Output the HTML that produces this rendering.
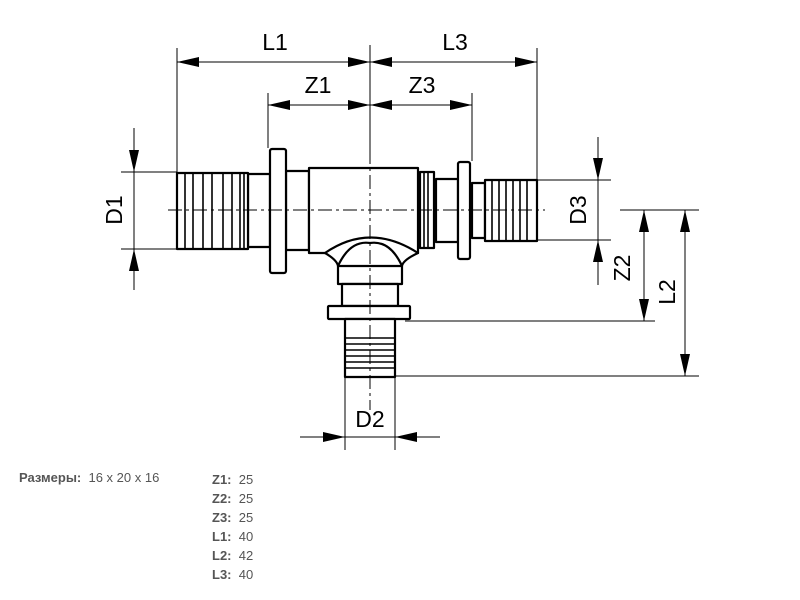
<!DOCTYPE html>
<html><head><meta charset="utf-8"><style>
body{margin:0;background:#fff;width:800px;height:600px;overflow:hidden;position:relative;font-family:"Liberation Sans",Arial,sans-serif}
svg{position:absolute;left:0;top:0}
.t{position:absolute;font-size:13px;color:#555}
.t b{color:#555}
</style></head><body>
<svg width="800" height="600" viewBox="0 0 800 600">
<defs>
<marker id="a" markerWidth="22" markerHeight="10" refX="22" refY="5" orient="auto" markerUnits="userSpaceOnUse"><path d="M0,0L22,5L0,10z" fill="#000"/></marker>
</defs>
<g stroke="#000" stroke-width="1" fill="none">
<line x1="177" y1="48" x2="177" y2="172"/>
<line x1="537" y1="48" x2="537" y2="180"/>
<line x1="268" y1="93" x2="268" y2="148"/>
<line x1="472" y1="93" x2="472" y2="161"/>
<line x1="121" y1="172" x2="177" y2="172"/>
<line x1="121" y1="249" x2="177" y2="249"/>
<line x1="537" y1="180" x2="611" y2="180"/>
<line x1="537" y1="240" x2="611" y2="240"/>
<line x1="620" y1="210" x2="699" y2="210"/>
<line x1="405" y1="321" x2="655" y2="321"/>
<line x1="395" y1="376" x2="699" y2="376"/>
<line x1="345" y1="378" x2="345" y2="450"/>
<line x1="395" y1="378" x2="395" y2="450"/>
<line x1="370" y1="45" x2="370" y2="150"/>
</g>
<g stroke="#000" stroke-width="1">
<line x1="370" y1="62" x2="177" y2="62" marker-end="url(#a)"/>
<line x1="177" y1="62" x2="370" y2="62" marker-end="url(#a)"/>
<line x1="537" y1="62" x2="370" y2="62" marker-end="url(#a)"/>
<line x1="370" y1="62" x2="537" y2="62" marker-end="url(#a)"/>
<line x1="370" y1="105" x2="268" y2="105" marker-end="url(#a)"/>
<line x1="268" y1="105" x2="370" y2="105" marker-end="url(#a)"/>
<line x1="472" y1="105" x2="370" y2="105" marker-end="url(#a)"/>
<line x1="370" y1="105" x2="472" y2="105" marker-end="url(#a)"/>
<line x1="134" y1="128" x2="134" y2="172" marker-end="url(#a)"/>
<line x1="134" y1="290" x2="134" y2="249" marker-end="url(#a)"/>
<line x1="134" y1="172" x2="134" y2="249"/>
<line x1="598" y1="137" x2="598" y2="180" marker-end="url(#a)"/>
<line x1="598" y1="285" x2="598" y2="240" marker-end="url(#a)"/>
<line x1="598" y1="180" x2="598" y2="240"/>
<line x1="644" y1="265" x2="644" y2="210" marker-end="url(#a)"/>
<line x1="644" y1="265" x2="644" y2="321" marker-end="url(#a)"/>
<line x1="685" y1="290" x2="685" y2="210" marker-end="url(#a)"/>
<line x1="685" y1="290" x2="685" y2="376" marker-end="url(#a)"/>
<line x1="300" y1="437" x2="345" y2="437" marker-end="url(#a)"/>
<line x1="440" y1="437" x2="395" y2="437" marker-end="url(#a)"/>
<line x1="345" y1="437" x2="395" y2="437"/>
</g>
<g stroke="#000" stroke-width="2.2" fill="#fff" stroke-linejoin="round">
<rect x="248" y="174" width="22" height="73"/>
<rect x="177" y="173" width="71" height="76"/>
<rect x="286" y="171" width="23" height="79"/>
<rect x="270" y="149" width="16" height="124" rx="2"/>
<path d="M309,168 H418 V253 H309 Z"/>
<rect x="420" y="172" width="14" height="76"/>
<rect x="436" y="179" width="22" height="63"/>
<rect x="458" y="162" width="12" height="97" rx="2"/>
<rect x="472" y="183" width="13" height="55"/>
<rect x="485" y="180" width="52" height="61"/>
<path d="M325,253 Q370,222 418,253 Q403,260 402,266 H338 Q337,260 325,253 Z"/>
<path d="M338,266 Q350,240 370,243 Q390,240 402,266"/>
<rect x="338" y="266" width="64" height="18"/>
<rect x="342" y="284" width="56" height="22"/>
<rect x="328" y="306" width="82" height="13" rx="1"/>
<rect x="345" y="319" width="50" height="58"/>
</g>
<g stroke="#000" stroke-width="1.6">
<line x1="185" y1="173" x2="185" y2="249"/><line x1="193" y1="173" x2="193" y2="249"/>
<line x1="203" y1="173" x2="203" y2="249"/><line x1="212" y1="173" x2="212" y2="249"/>
<line x1="223" y1="173" x2="223" y2="249"/><line x1="232" y1="173" x2="232" y2="249"/>
<line x1="240" y1="173" x2="240" y2="249"/><line x1="244" y1="173" x2="244" y2="249"/>
<line x1="424" y1="172" x2="424" y2="248"/><line x1="428" y1="172" x2="428" y2="248"/>
<line x1="492" y1="180" x2="492" y2="241"/><line x1="499" y1="180" x2="499" y2="241"/>
<line x1="506" y1="180" x2="506" y2="241"/><line x1="513" y1="180" x2="513" y2="241"/>
<line x1="520" y1="180" x2="520" y2="241"/><line x1="527" y1="180" x2="527" y2="241"/>
<line x1="345" y1="338" x2="395" y2="338"/><line x1="345" y1="344" x2="395" y2="344"/>
<line x1="345" y1="350" x2="395" y2="350"/><line x1="345" y1="356" x2="395" y2="356"/>
<line x1="345" y1="362" x2="395" y2="362"/><line x1="345" y1="368" x2="395" y2="368"/>
</g>
<g stroke="#000" stroke-width="1" stroke-dasharray="14,4,3,4">
<line x1="168" y1="210" x2="545" y2="210"/>
<line x1="370" y1="150" x2="370" y2="410"/>
</g>
<g font-family="Liberation Sans, Arial, sans-serif" font-size="23" fill="#000" text-anchor="middle">
<text x="275" y="50">L1</text>
<text x="455" y="50">L3</text>
<text x="318" y="93">Z1</text>
<text x="422" y="93">Z3</text>
<text x="370" y="427">D2</text>
<text transform="translate(122,210) rotate(-90)">D1</text>
<text transform="translate(586,210) rotate(-90)">D3</text>
<text transform="translate(630,268) rotate(-90)">Z2</text>
<text transform="translate(675,292) rotate(-90)">L2</text>
</g>
</svg>
<div class="t" style="left:19px;top:470px"><b>Размеры:</b>&nbsp; 16 x 20 x 16</div>
<div class="t" style="left:212px;top:470px;line-height:19px"><b>Z1:</b>&nbsp; 25<br><b>Z2:</b>&nbsp; 25<br><b>Z3:</b>&nbsp; 25<br><b>L1:</b>&nbsp; 40<br><b>L2:</b>&nbsp; 42<br><b>L3:</b>&nbsp; 40</div>
</body></html>
